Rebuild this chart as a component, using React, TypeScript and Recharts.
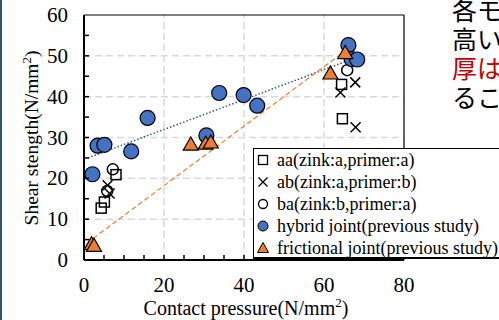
import { type JSX } from 'react'
import { ScatterChart, Scatter, XAxis, YAxis, ReferenceLine, Legend, Label } from 'recharts'

interface Pt {
  x: number
  y: number
}

// values
const aaData: Pt[] = [
  { x: 4.3, y: 12.7 }, { x: 5.1, y: 14.2 }, { x: 8.0, y: 20.9 },
  { x: 64.4, y: 43.0 }, { x: 64.6, y: 34.6 },
]
const abData: Pt[] = [
  { x: 5.9, y: 18.3 }, { x: 6.4, y: 16.3 },
  { x: 64.1, y: 41.0 }, { x: 67.8, y: 43.5 }, { x: 67.9, y: 32.5 },
]
const baData: Pt[] = [
  { x: 7.2, y: 22.2 }, { x: 5.8, y: 16.9 }, { x: 65.8, y: 46.5 },
]
const hybridData: Pt[] = [
  { x: 2.1, y: 21.0 }, { x: 3.4, y: 28.0 }, { x: 5.1, y: 28.2 }, { x: 11.8, y: 26.6 },
  { x: 15.9, y: 34.8 }, { x: 30.6, y: 30.5 }, { x: 33.8, y: 40.9 }, { x: 39.9, y: 40.4 },
  { x: 43.3, y: 37.8 }, { x: 66.1, y: 52.6 }, { x: 66.9, y: 49.2 }, { x: 68.3, y: 49.1 },
]
const frictionalData: Pt[] = [
  { x: 1.9, y: 4.0 }, { x: 2.5, y: 3.6 }, { x: 26.7, y: 28.4 }, { x: 30.4, y: 28.6 },
  { x: 31.7, y: 28.9 }, { x: 61.6, y: 45.8 }, { x: 65.3, y: 50.8 },
]
const hybridTrend: Pt[] = [{ x: 1.0, y: 25.0 }, { x: 66.5, y: 49.0 }]
const frictionalTrend: Pt[] = [{ x: 2.3, y: 5.3 }, { x: 65.3, y: 51.2 }]

const X_TICKS = [0, 5, 10, 15, 20, 25, 30, 35, 40, 45, 50, 55, 60, 65, 70, 75, 80]
const Y_TICKS = [0, 5, 10, 15, 20, 25, 30, 35, 40, 45, 50, 55, 60]
const X_GRID = [20, 40, 60]
const Y_GRID = [10, 20, 30, 40, 50]

const LEGEND_LABELS = [
  'aa(zink:a,primer:a)',
  'ab(zink:a,primer:b)',
  'ba(zink:b,primer:a)',
  'hybrid joint(previous study)',
  'frictional joint(previous study)',
]

const SIDE_TEXT = ['各モ', '高い', '厚は', 'るこ']

const SERIF = 'Liberation Serif'
const BLUE = '#4472C4'
const ORANGE = '#ED7D31'

const squareShape = (p: any) => (
  <rect x={p.cx - 5} y={p.cy - 5} width={10} height={10} fill="none" stroke="#000" strokeWidth={1.5} />
)
const crossShape = (p: any) => (
  <g stroke="#000" strokeWidth={1.5}>
    <line x1={p.cx - 5} y1={p.cy - 5} x2={p.cx + 5} y2={p.cy + 5} />
    <line x1={p.cx - 5} y1={p.cy + 5} x2={p.cx + 5} y2={p.cy - 5} />
  </g>
)
const openCircleShape = (p: any) => (
  <circle cx={p.cx} cy={p.cy} r={5.5} fill="none" stroke="#000" strokeWidth={1.5} />
)
const blueCircleShape = (p: any) => (
  <circle cx={p.cx} cy={p.cy} r={7.5} fill={BLUE} stroke="#000" strokeWidth={1.2} />
)
const triangleShape = (p: any) => (
  <polygon
    points={`${p.cx},${p.cy - 7} ${p.cx - 7.5},${p.cy + 6} ${p.cx + 7.5},${p.cy + 6}`}
    fill={ORANGE}
    stroke="#000"
    strokeWidth={1.2}
  />
)
const noShape = () => <g />

const XTick = (props: any): JSX.Element => {
  const { x, y, payload } = props
  const v = payload.value as number
  return (
    <g>
      {v > 0 && v < 80 && <line x1={x} x2={x} y1={y} y2={y - 5} stroke="#000" strokeWidth={1.5} />}
      {v % 20 === 0 && (
        <text x={x} y={y + 32} textAnchor="middle" fontFamily={SERIF} fontSize={21} fill="#000">
          {v}
        </text>
      )}
    </g>
  )
}

const YTick = (props: any): JSX.Element => {
  const { x, y, payload } = props
  const v = payload.value as number
  return (
    <g>
      {v > 0 && v < 60 && <line x1={x} x2={x + 5} y1={y} y2={y} stroke="#000" strokeWidth={1.5} />}
      {v % 10 === 0 && (
        <text x={x - 16} y={y + 7} textAnchor="end" fontFamily={SERIF} fontSize={21} fill="#000">
          {v}
        </text>
      )}
    </g>
  )
}

const legendIcon = (i: number): JSX.Element => {
  const c = { cx: 9, cy: 9 }
  if (i === 0) return <rect x={4.5} y={4.5} width={9} height={9} fill="none" stroke="#000" strokeWidth={1.3} />
  if (i === 1)
    return (
      <g stroke="#000" strokeWidth={1.3}>
        <line x1={4.5} y1={4.5} x2={13.5} y2={13.5} />
        <line x1={4.5} y1={13.5} x2={13.5} y2={4.5} />
      </g>
    )
  if (i === 2) return <circle {...c} r={4.5} fill="none" stroke="#000" strokeWidth={1.3} />
  if (i === 3) return <circle {...c} r={5} fill={BLUE} stroke="#000" strokeWidth={1} />
  return <polygon points="9,3.5 3.5,13.5 14.5,13.5" fill={ORANGE} stroke="#000" strokeWidth={1} />
}

const renderLegend = (): JSX.Element => (
  <div
    style={{
      width: 280,
      height: 111,
      background: '#fff',
      border: '1px solid #000',
      borderBottomWidth: 2,
      boxSizing: 'border-box',
    }}
  >
    {LEGEND_LABELS.map((label, i) => (
      <div
        key={label}
        style={{
          display: 'flex',
          alignItems: 'center',
          height: 22,
          fontFamily: SERIF,
          fontSize: 18,
          lineHeight: '20px',
          color: '#000',
          whiteSpace: 'nowrap',
        }}
      >
        <svg width={18} height={18} style={{ marginLeft: 0, marginRight: 5 }}>
          {legendIcon(i)}
        </svg>
        <span style={{ fontFamily: SERIF }}>{label}</span>
      </div>
    ))}
  </div>
)

export default function App(): JSX.Element {
  return (
    <div
      style={{
        position: 'fixed',
        left: 0,
        top: 0,
        width: 499,
        height: 320,
        overflow: 'hidden',
        background: '#fff',
      }}
    >
      <ScatterChart width={499} height={320} margin={{ top: 15, right: 95, bottom: 59, left: 83 }}>
        {Y_GRID.map((v) => (
          <ReferenceLine key={`gy${v}`} y={v} stroke="#d9d9d9" strokeWidth={1.5} strokeDasharray="7 4" />
        ))}
        {X_GRID.map((v) => (
          <ReferenceLine key={`gx${v}`} x={v} stroke="#d9d9d9" strokeWidth={1.5} strokeDasharray="7 4" />
        ))}
        <ReferenceLine y={60} stroke="#000" strokeWidth={1.2} />
        <ReferenceLine x={80} stroke="#000" strokeWidth={1.2} />
        <XAxis
          type="number"
          dataKey="x"
          domain={[0, 80]}
          ticks={X_TICKS}
          interval={0}
          height={1}
          tickSize={0}
          tickMargin={0}
          tickLine={false}
          axisLine={{ stroke: '#000', strokeWidth: 2 }}
          tick={<XTick />}
          allowDataOverflow
        >
          <Label
            content={() => (
              <text x={246} y={315} textAnchor="middle" fontFamily={SERIF} fontSize={20} fill="#000">
                Contact pressure(N/mm<tspan dy={-8} fontSize={13}>2</tspan>
                <tspan dy={8}>)</tspan>
              </text>
            )}
          />
        </XAxis>
        <YAxis
          type="number"
          dataKey="y"
          domain={[0, 60]}
          ticks={Y_TICKS}
          interval={0}
          width={1}
          tickSize={0}
          tickMargin={0}
          tickLine={false}
          axisLine={{ stroke: '#000', strokeWidth: 2 }}
          tick={<YTick />}
          allowDataOverflow
        >
          <Label
            content={() => (
              <text
                x={38}
                y={138}
                textAnchor="middle"
                transform="rotate(-90, 38, 138)"
                fontFamily={SERIF}
                fontSize={19.5}
                fill="#000"
              >
                Shear stength(N/mm<tspan dy={-7} fontSize={13}>2</tspan>
                <tspan dy={7}>)</tspan>
              </text>
            )}
          />
        </YAxis>
        <Scatter
          data={hybridTrend}
          line={{ stroke: '#2F5597', strokeWidth: 1.5, strokeDasharray: '1.5 2' }}
          shape={noShape}
          legendType="none"
          isAnimationActive={false}
        />
        <Scatter
          data={frictionalTrend}
          line={{ stroke: ORANGE, strokeWidth: 1.2, strokeDasharray: '5 3' }}
          shape={noShape}
          legendType="none"
          isAnimationActive={false}
        />
        <Scatter name={LEGEND_LABELS[0]} data={aaData} shape={squareShape} isAnimationActive={false} />
        <Scatter name={LEGEND_LABELS[1]} data={abData} shape={crossShape} isAnimationActive={false} />
        <Scatter name={LEGEND_LABELS[2]} data={baData} shape={openCircleShape} isAnimationActive={false} />
        <Scatter name={LEGEND_LABELS[3]} data={hybridData} shape={blueCircleShape} isAnimationActive={false} />
        <Scatter name={LEGEND_LABELS[4]} data={frictionalData} shape={triangleShape} isAnimationActive={false} />
        <Legend
          layout="vertical"
          align="center"
          verticalAlign="middle"
          content={renderLegend}
          wrapperStyle={{ left: 253, top: 148, width: 280, height: 111, bottom: 'auto', right: 'auto' }}
        />
      </ScatterChart>
      {SIDE_TEXT.map((t, i) => (
        <div
          key={t}
          style={{
            position: 'absolute',
            left: 452,
            top: -4 + i * 29,
            fontFamily: '"Noto Sans CJK JP", sans-serif',
            fontSize: 25,
            lineHeight: '27px',
            color: i === 2 ? '#C00000' : '#000',
            whiteSpace: 'nowrap',
          }}
        >
          {t}
        </div>
      ))}
      <div style={{ position: 'absolute', left: 0, top: 0, width: 2, height: 320, background: '#2b5876' }} />
    </div>
  )
}
